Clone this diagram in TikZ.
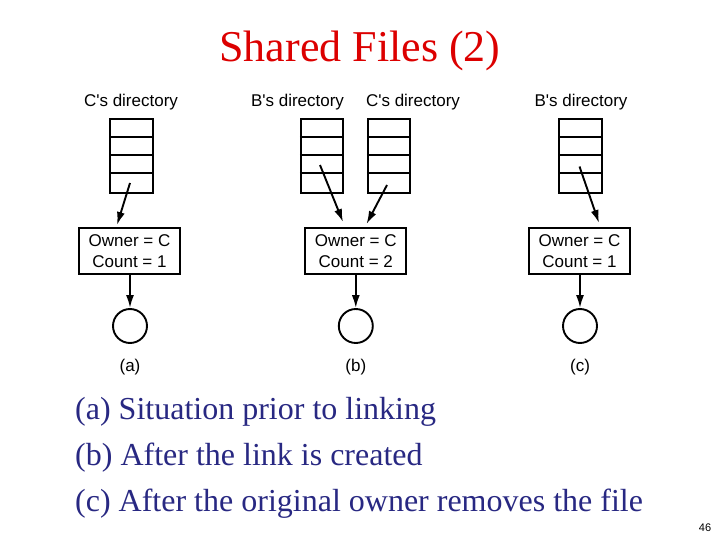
\documentclass[tikz,border=0pt]{standalone}
\usepackage{fontspec}
\setmainfont{Liberation Serif}
\newfontfamily\diagfont{Liberation Sans}
\usetikzlibrary{arrows.meta}
\definecolor{titlered}{RGB}{220,0,0}
\definecolor{capblue}{RGB}{40,40,130}
\begin{document}
\begin{tikzpicture}[x=1pt,y=-1pt,
  lbl/.style={font=\diagfont\fontsize{17}{17}\selectfont, inner sep=0pt},
  stack/.style={draw, line width=1.9pt, minimum width=42.5pt, minimum height=73.5pt, inner sep=0pt},
  infobox/.style={draw, line width=1.9pt, minimum width=101pt, minimum height=46.5pt, inner sep=0pt, align=center, font=\diagfont\fontsize{17}{20.5}\selectfont},
  filecirc/.style={draw, line width=1.9pt, circle, minimum size=34pt, inner sep=0pt},
  arr/.style={line width=1.9pt, -{Latex[length=13pt,width=8pt]}},
  captext/.style={anchor=base west, inner sep=0pt, text=capblue, font=\fontsize{32}{32}\selectfont}]
\useasboundingbox (0,0) rectangle (720,540);
% title
\node[anchor=base, inner sep=0pt, text=titlered, font=\fontsize{44}{44}\selectfont] (title) at (360,62) {Shared Files (2)};
% stacks
\node[stack] (sa) at (131.3,156) {};
\node[stack] (sbB) at (322,156) {};
\node[stack] (sbC) at (389,156) {};
\node[stack] (sc) at (580.5,156) {};
\foreach \s in {sa,sbB,sbC,sc}{
  \foreach \k in {1,2,3}{
    \draw[line width=1.9pt] ([yshift={-18.375pt*\k}]\s.north west) -- ([yshift={-18.375pt*\k}]\s.north east);
  }
}
\node[lbl] (la) at (131,102) {C's directory};
\node[lbl] (lbB) at (297.5,102) {B's directory};
\node[lbl] (lbC) at (413,102) {C's directory};
\node[lbl] (lc) at (581,102) {B's directory};
% boxes
\node[infobox] (ba) at (129.5,251) {Owner = C\\Count = 1};
\node[infobox] (bb) at (355.8,251) {Owner = C\\Count = 2};
\node[infobox] (bc) at (579.5,251) {Owner = C\\Count = 1};
% circles
\node[filecirc] (ca) at (130,326) {};
\node[filecirc] (cb) at (355.8,326) {};
\node[filecirc] (cc) at (580,326) {};
\node[lbl] (pa) at (130,367) {(a)};
\node[lbl] (pb) at (355.8,367) {(b)};
\node[lbl] (pc) at (580,367) {(c)};
% arrow start points
\coordinate (sa0) at (130,183);
\coordinate (sa1) at (117,225);
\coordinate (sbB0) at (320,165);
\coordinate (sbB1) at (343,222);
\coordinate (sbC0) at (387,185);
\coordinate (sbC1) at (366.5,224);
\coordinate (sc0) at (579.5,166.5);
\coordinate (sc1) at (599,223);
\draw[arr] (sa0) -- (sa1);
\draw[arr] (sbB0) -- (sbB1);
\draw[arr] (sbC0) -- (sbC1);
\draw[arr] (sc0) -- (sc1);
\draw[arr] (ba.south -| ca) -- (ca.north);
\draw[arr] (bb.south -| cb) -- (cb.north);
\draw[arr] (bc.south -| cc) -- (cc.north);
% captions
\node[captext] (c1) at (75,419.5) {(a) Situation prior to linking};
\node[captext] (c2) at (75,465) {(b) After the link is created};
\node[captext] (c3) at (75,511) {(c) After the original owner removes the file};
\node[anchor=base, inner sep=0pt, font=\diagfont\fontsize{11}{11}\selectfont] (pg) at (705,531) {46};
\end{tikzpicture}
\end{document}
